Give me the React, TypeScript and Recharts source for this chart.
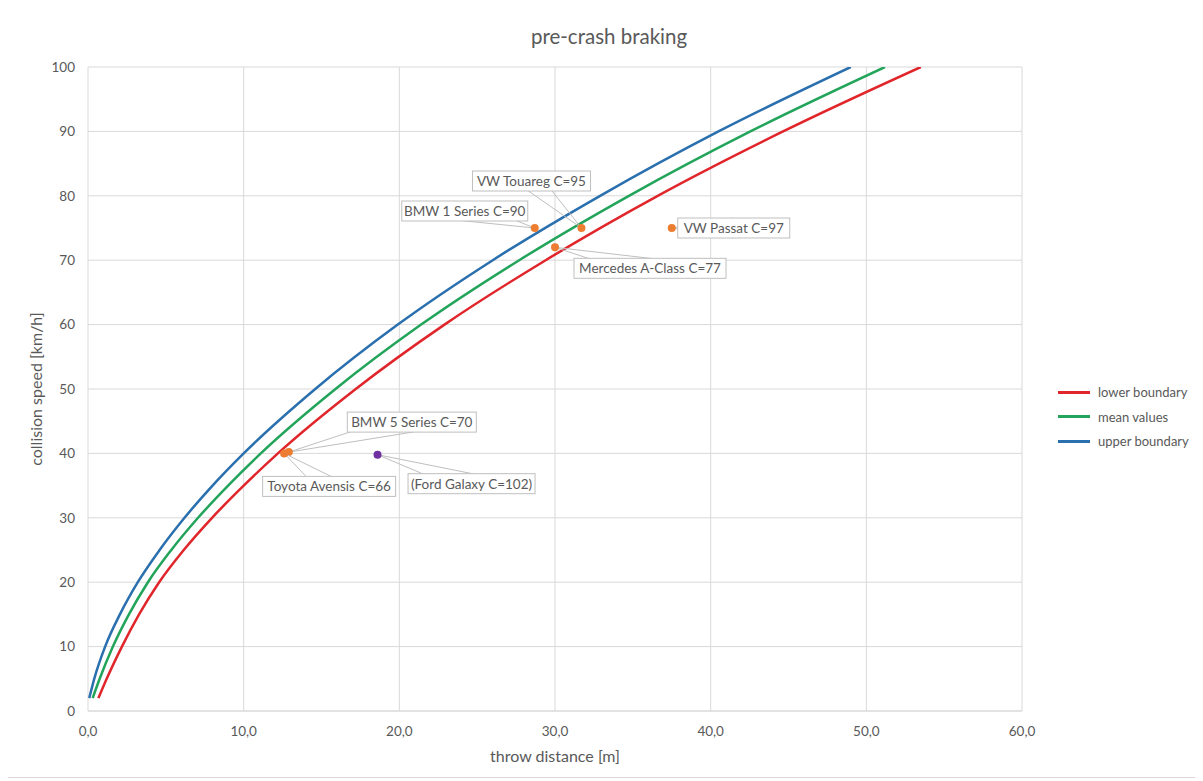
import React from 'react';
import { ComposedChart, Line, Scatter, XAxis, YAxis, CartesianGrid, Label } from 'recharts';

// collision speed [km/h] at which the boundary curves were read
const speeds = [2, 5, 10, 15, 20, 25, 30, 35, 40, 50, 60, 70, 80, 90, 100];
// throw distance [m] for each speed
const lowerDist = [0.67, 1.2, 2.18, 3.28, 4.57, 6.15, 7.97, 10.0, 12.2, 17.2, 22.9, 29.4, 36.6, 44.65, 53.5];
const meanDist = [0.3, 0.75, 1.6, 2.63, 3.85, 5.35, 7.07, 9.0, 11.1, 15.9, 21.4, 27.7, 34.75, 42.55, 51.2];
const upperDist = [0.08, 0.4, 1.1, 2.05, 3.2, 4.6, 6.2, 8.0, 10.0, 14.6, 19.9, 26.0, 32.9, 40.5, 49.0];

// crash tests
const carLabels = ['BMW 1 Series C=90', 'VW Touareg C=95', 'Mercedes A-Class C=77', 'VW Passat C=97', 'BMW 5 Series C=70', 'Toyota Avensis C=66'];
const carDist = [28.7, 31.7, 30.0, 37.5, 12.9, 12.6];
const carSpeed = [75, 75, 72, 75, 40.2, 40];

const outlierLabels = ['(Ford Galaxy C=102)'];
const outlierDist = [18.6];
const outlierSpeed = [39.8];

const xTicks = [0, 10, 20, 30, 40, 50, 60];
const yTicks = [0, 10, 20, 30, 40, 50, 60, 70, 80, 90, 100];

// callout placement: box centre offset from the point, and box width (px)
const callouts: Record<string, { dx: number; dy: number; w: number }> = {
  'BMW 1 Series C=90': { dx: -70, dy: -17, w: 126 },
  'VW Touareg C=95': { dx: -50, dy: -47, w: 118 },
  'Mercedes A-Class C=77': { dx: 95, dy: 21, w: 152 },
  'VW Passat C=97': { dx: 62, dy: 0, w: 112 },
  'BMW 5 Series C=70': { dx: 123, dy: -30, w: 129 },
  'Toyota Avensis C=66': { dx: 45, dy: 33, w: 133 },
  '(Ford Galaxy C=102)': { dx: 94, dy: 29, w: 127 },
};

const FONT = 'Lato, "Open Sans", sans-serif';
const TEXT = '#595959';
const GRID = '#d9d9d9';

const series = [
  { name: 'lower boundary', color: '#E0252B', dist: lowerDist },
  { name: 'mean values', color: '#22A45A', dist: meanDist },
  { name: 'upper boundary', color: '#2A6FAE', dist: upperDist },
];

const toPoints = (dist: number[]) => speeds.map((v, i) => ({ x: dist[i], y: v }));
const cars = carLabels.map((label, i) => ({ x: carDist[i], y: carSpeed[i], label }));
const outliers = outlierLabels.map((label, i) => ({ x: outlierDist[i], y: outlierSpeed[i], label }));

function makeShape(color: string) {
  return (props: any) => {
    const { cx, cy, payload } = props;
    const c = callouts[payload.label];
    const bx = cx + c.dx;
    const by = cy + c.dy;
    const h = 20;
    const len = Math.hypot(c.dx, c.dy) || 1;
    const px = (-c.dy / len) * 10;
    const py = (c.dx / len) * 10;
    return (
      <g>
        <polygon
          points={`${bx + px},${by + py} ${cx},${cy} ${bx - px},${by - py}`}
          fill="none"
          stroke="#bfbfbf"
          strokeWidth={1}
        />
        <rect x={bx - c.w / 2} y={by - h / 2} width={c.w} height={h} fill="#fff" stroke="#bfbfbf" />
        <text x={bx} y={by} textAnchor="middle" dominantBaseline="central" fontSize={13.5} fill={TEXT} fontFamily={FONT}>
          {payload.label}
        </text>
        <circle cx={cx} cy={cy} r={4} fill={color} />
      </g>
    );
  };
}

function LegendBox() {
  return (
    <div style={{ position: 'absolute', left: 1050, top: 372, fontFamily: FONT, fontSize: 13, color: TEXT }}>
      {series.map((s) => (
        <div key={s.name} style={{ display: 'flex', alignItems: 'center', height: 24.5 }}>
          <span style={{ display: 'inline-block', width: 32, height: 3, background: s.color, marginRight: 8 }} />
          {s.name}
        </div>
      ))}
    </div>
  );
}

export default function App() {
  return (
    <div
      style={{
        position: 'relative',
        width: 1189,
        height: 769,
        margin: '-1px 0 0 -1px',
        border: '1px solid #d9d9d9',
        background: '#fff',
      }}
    >
      <div
        style={{
          position: 'absolute',
          top: 16,
          left: 0,
          width: 1202,
          textAlign: 'center',
          fontFamily: FONT,
          fontSize: 20.5,
          color: TEXT,
        }}
      >
        pre-crash braking
      </div>
      <ComposedChart width={1187} height={767} margin={{ top: 59, right: 173, bottom: 34, left: 30 }}>
        <CartesianGrid stroke={GRID} />
        <XAxis
          type="number"
          dataKey="x"
          domain={[0, 60]}
          ticks={xTicks}
          tickFormatter={(v: number) => v.toFixed(1).replace('.', ',')}
          tick={{ fill: TEXT, fontSize: 13.5, fontFamily: FONT }}
          tickLine={false}
          axisLine={{ stroke: GRID }}
          tickMargin={9}
          height={30}
          allowDataOverflow
        >
          <Label
            content={(p: any) => {
              const vb = p.viewBox;
              return (
                <text x={vb.x + vb.width / 2} y={vb.y + 44} textAnchor="middle" dominantBaseline="central" fontSize={16} fill={TEXT} fontFamily={FONT}>
                  throw distance [m]
                </text>
              );
            }}
          />
        </XAxis>
        <YAxis
          type="number"
          dataKey="y"
          domain={[0, 100]}
          ticks={yTicks}
          tick={{ fill: TEXT, fontSize: 13.5, fontFamily: FONT }}
          tickLine={false}
          axisLine={false}
          tickMargin={7}
          width={50}
          allowDataOverflow
        >
          <Label
            content={(p: any) => {
              const vb = p.viewBox;
              const x = vb.x - 3;
              const y = vb.y + vb.height / 2;
              return (
                <text x={x} y={y} transform={`rotate(-90 ${x} ${y})`} textAnchor="middle" dominantBaseline="central" fontSize={16} fill={TEXT} fontFamily={FONT}>
                  collision speed [km/h]
                </text>
              );
            }}
          />
        </YAxis>
        {series.map((s) => (
          <Line
            key={s.name}
            name={s.name}
            data={toPoints(s.dist)}
            dataKey="y"
            type="monotone"
            stroke={s.color}
            strokeWidth={2.5}
            dot={false}
            activeDot={false}
            isAnimationActive={false}
          />
        ))}
        <Scatter name="crash tests" data={cars} dataKey="y" shape={makeShape('#ED7D31')} isAnimationActive={false} />
        <Scatter name="excluded" data={outliers} dataKey="y" shape={makeShape('#7030A0')} isAnimationActive={false} />
      </ComposedChart>
      <LegendBox />
    </div>
  );
}
